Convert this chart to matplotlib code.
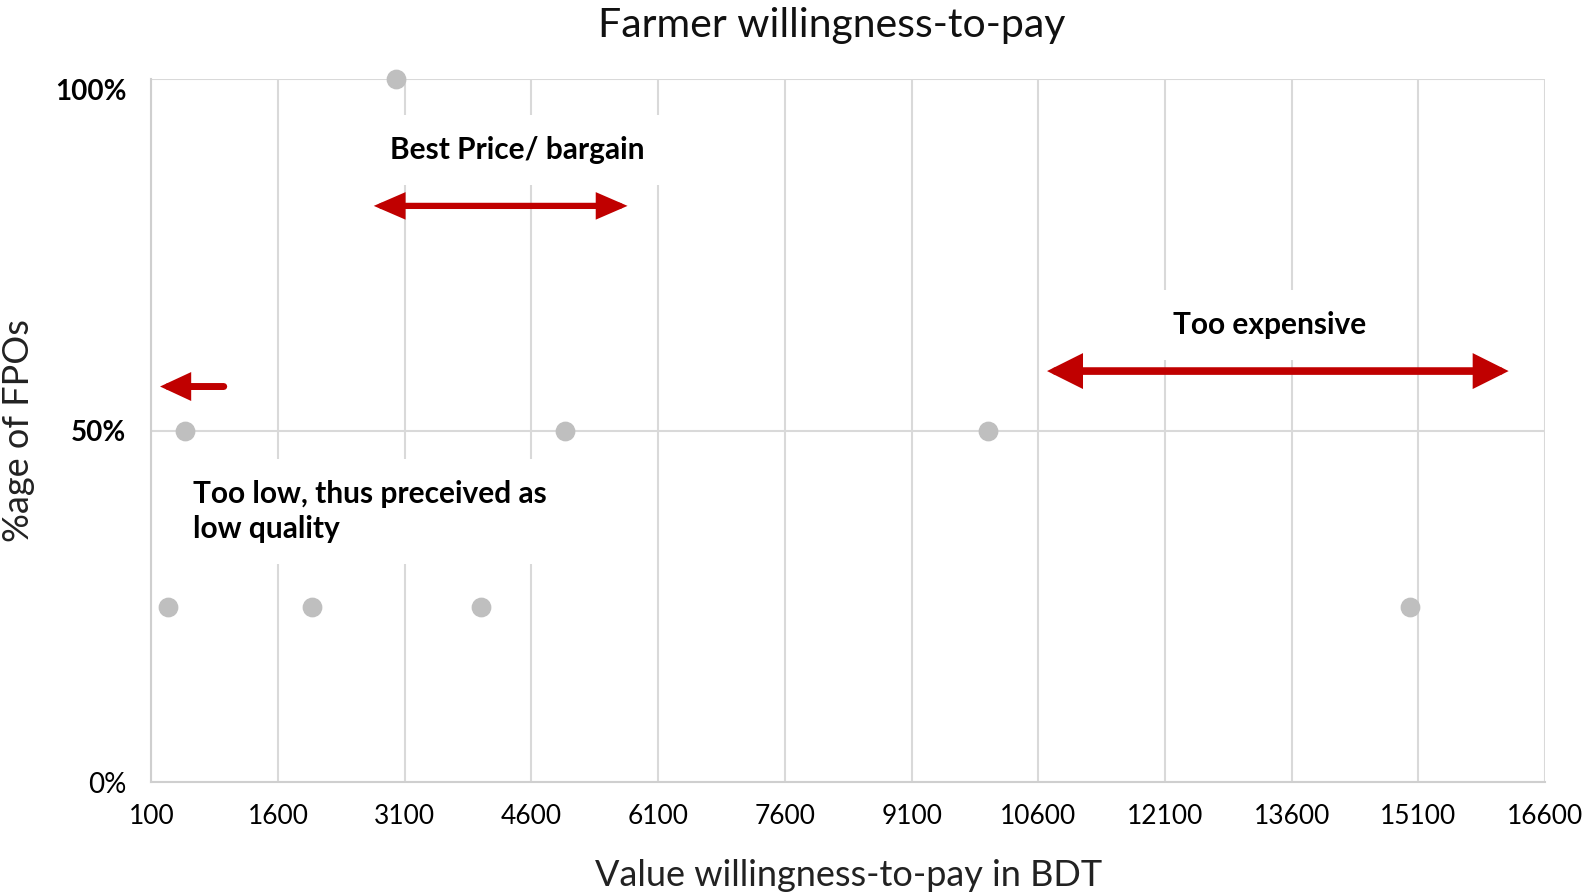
import matplotlib.pyplot as plt
from matplotlib.patches import FancyArrowPatch
from matplotlib.ticker import FuncFormatter

plt.rcParams['font.family'] = ['Lato', 'DejaVu Sans']

# data
wtp_bdt = [300, 500, 2000, 3000, 4000, 5000, 10000, 15000]
share_fpo = [0.25, 0.5, 0.25, 1.0, 0.25, 0.5, 0.5, 0.25]

x_ticks = list(range(100, 16601, 1500))
y_ticks = [0, 0.5, 1.0]

# annotation ranges (x from, x to, y)
bargain_range = (2700, 5770, 0.82)
expensive_range = (10670, 16200, 0.585)
low_range = (990, 170, 0.563)

red = '#C00000'
grey_dot = '#BFBFBF'
grid_col = '#D9D9D9'

fig = plt.figure(figsize=(15.93, 8.96), dpi=100)
ax = fig.add_axes([0.095, 0.127, 0.875, 0.7844])

ax.scatter(wtp_bdt, share_fpo, s=175, color=grey_dot, zorder=3, clip_on=False)

ax.set_xlim(100, 16600)
ax.set_ylim(0, 1.0)
ax.set_xticks(x_ticks)
ax.set_yticks(y_ticks)
ax.yaxis.set_major_formatter(FuncFormatter(lambda v, p: f'{v:.0%}'))
ax.tick_params(axis='both', length=0, colors='#000000')
ax.tick_params(axis='x', pad=16, labelsize=19)
ax.tick_params(axis='y', pad=18, labelsize=20)
ylabels = ax.get_yticklabels()
for lab in ylabels[1:]:
    lab.set_fontweight('bold')
ylabels[-1].set_va('top')   # 100% sits just under its gridline

ax.grid(True, color=grid_col, lw=1.5, zorder=0)
ax.set_axisbelow(True)
for side in ['top', 'right']:
    ax.spines[side].set_visible(False)
for side in ['left', 'bottom']:
    ax.spines[side].set_color('#CFCFCF')
    ax.spines[side].set_linewidth(1.5)

ax.set_xlabel('Value willingness-to-pay in BDT', fontsize=26, color='#222222')
ax.xaxis.label.set_va('center')
ax.xaxis.set_label_coords(0.5, -0.133)
ax.set_ylabel('%age of FPOs', fontsize=26, color='#222222')
ax.yaxis.label.set_va('center')
ax.yaxis.set_label_coords(-0.095, 0.5)

fig.text(0.522, 0.972, 'Farmer willingness-to-pay', fontsize=29.5,
         ha='center', va='center', color='#111111')

box = dict(boxstyle='square,pad=0.7', fc='white', ec='none')
ax.text(4430, 0.899, 'Best Price/ bargain', fontsize=21.5, fontweight='bold',
        ha='center', va='center', bbox=box, zorder=2)
ax.text(13340, 0.65, 'Too expensive', fontsize=21.5, fontweight='bold',
        ha='center', va='center', bbox=box, zorder=2)
ax.text(590, 0.385, 'Too low, thus preceived as\nlow quality', fontsize=21.5,
        fontweight='bold', ha='left', va='center', linespacing=1.3,
        bbox=box, zorder=2)


def red_arrow(x0, x1, y, style, lw):
    arr = FancyArrowPatch((x0, y), (x1, y), arrowstyle=style,
                          mutation_scale=10, lw=lw, color=red,
                          joinstyle='miter', zorder=4, clip_on=False)
    ax.add_patch(arr)


red_arrow(bargain_range[0], bargain_range[1], bargain_range[2],
          '<|-|>,head_length=1.5,head_width=0.65', 4.5)
red_arrow(expensive_range[0], expensive_range[1], expensive_range[2],
          '<|-|>,head_length=1.7,head_width=0.85', 5.5)
red_arrow(low_range[0], low_range[1], low_range[2],
          '-|>,head_length=1.4,head_width=0.65', 5)

fig.savefig('out.png', dpi=100)
